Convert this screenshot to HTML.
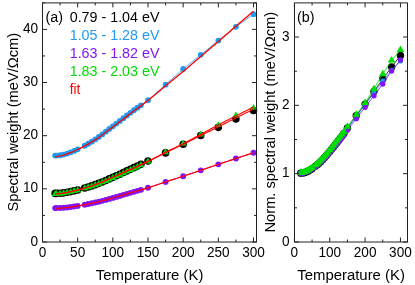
<!DOCTYPE html>
<html><head><meta charset="utf-8"><title>Spectral weight</title>
<style>
html,body{margin:0;padding:0;background:#fff;}
svg{display:block;font-family:"Liberation Sans",sans-serif;will-change:transform;}
</style></head>
<body>
<svg width="415" height="285" viewBox="0 0 415 285">
<rect width="415" height="285" fill="#fff"/>
<polyline points="55.16,155.61 56.57,155.56 60.08,155.24 63.6,154.59 67.12,153.58 70.63,152.37 74.15,150.94 77.66,149.34 84.7,145.76 88.21,143.75 91.73,141.65 95.25,139.43 98.76,137.02 102.28,134.44 105.8,131.72 109.31,128.97 112.83,126.28 116.35,123.6 119.86,120.91 123.38,118.21 126.9,115.52 130.41,112.84 133.93,110.23 137.45,107.77 140.96,105.36 148,100.25 165.58,84.7 183.16,68.98 200.74,54.8 218.33,40.57 235.91,26.79 253.49,14.2" fill="none" stroke="#1E9BF0" stroke-width="0.8" stroke-linejoin="round" />
<path d="M55.16 155.61m-2.9 0a2.9 2.9 0 1 0 5.8 0a2.9 2.9 0 1 0 -5.8 0M56.57 155.56m-2.9 0a2.9 2.9 0 1 0 5.8 0a2.9 2.9 0 1 0 -5.8 0M60.08 155.24m-2.9 0a2.9 2.9 0 1 0 5.8 0a2.9 2.9 0 1 0 -5.8 0M63.6 154.59m-2.9 0a2.9 2.9 0 1 0 5.8 0a2.9 2.9 0 1 0 -5.8 0M67.12 153.58m-2.9 0a2.9 2.9 0 1 0 5.8 0a2.9 2.9 0 1 0 -5.8 0M70.63 152.37m-2.9 0a2.9 2.9 0 1 0 5.8 0a2.9 2.9 0 1 0 -5.8 0M74.15 150.94m-2.9 0a2.9 2.9 0 1 0 5.8 0a2.9 2.9 0 1 0 -5.8 0M77.66 149.34m-2.9 0a2.9 2.9 0 1 0 5.8 0a2.9 2.9 0 1 0 -5.8 0M84.7 145.76m-2.9 0a2.9 2.9 0 1 0 5.8 0a2.9 2.9 0 1 0 -5.8 0M88.21 143.75m-2.9 0a2.9 2.9 0 1 0 5.8 0a2.9 2.9 0 1 0 -5.8 0M91.73 141.65m-2.9 0a2.9 2.9 0 1 0 5.8 0a2.9 2.9 0 1 0 -5.8 0M95.25 139.43m-2.9 0a2.9 2.9 0 1 0 5.8 0a2.9 2.9 0 1 0 -5.8 0M98.76 137.02m-2.9 0a2.9 2.9 0 1 0 5.8 0a2.9 2.9 0 1 0 -5.8 0M102.28 134.44m-2.9 0a2.9 2.9 0 1 0 5.8 0a2.9 2.9 0 1 0 -5.8 0M105.8 131.72m-2.9 0a2.9 2.9 0 1 0 5.8 0a2.9 2.9 0 1 0 -5.8 0M109.31 128.97m-2.9 0a2.9 2.9 0 1 0 5.8 0a2.9 2.9 0 1 0 -5.8 0M112.83 126.28m-2.9 0a2.9 2.9 0 1 0 5.8 0a2.9 2.9 0 1 0 -5.8 0M116.35 123.6m-2.9 0a2.9 2.9 0 1 0 5.8 0a2.9 2.9 0 1 0 -5.8 0M119.86 120.91m-2.9 0a2.9 2.9 0 1 0 5.8 0a2.9 2.9 0 1 0 -5.8 0M123.38 118.21m-2.9 0a2.9 2.9 0 1 0 5.8 0a2.9 2.9 0 1 0 -5.8 0M126.9 115.52m-2.9 0a2.9 2.9 0 1 0 5.8 0a2.9 2.9 0 1 0 -5.8 0M130.41 112.84m-2.9 0a2.9 2.9 0 1 0 5.8 0a2.9 2.9 0 1 0 -5.8 0M133.93 110.23m-2.9 0a2.9 2.9 0 1 0 5.8 0a2.9 2.9 0 1 0 -5.8 0M137.45 107.77m-2.9 0a2.9 2.9 0 1 0 5.8 0a2.9 2.9 0 1 0 -5.8 0M140.96 105.36m-2.9 0a2.9 2.9 0 1 0 5.8 0a2.9 2.9 0 1 0 -5.8 0M148 100.25m-2.9 0a2.9 2.9 0 1 0 5.8 0a2.9 2.9 0 1 0 -5.8 0M165.58 84.7m-2.9 0a2.9 2.9 0 1 0 5.8 0a2.9 2.9 0 1 0 -5.8 0M183.16 68.98m-2.9 0a2.9 2.9 0 1 0 5.8 0a2.9 2.9 0 1 0 -5.8 0M200.74 54.8m-2.9 0a2.9 2.9 0 1 0 5.8 0a2.9 2.9 0 1 0 -5.8 0M218.33 40.57m-2.9 0a2.9 2.9 0 1 0 5.8 0a2.9 2.9 0 1 0 -5.8 0M235.91 26.79m-2.9 0a2.9 2.9 0 1 0 5.8 0a2.9 2.9 0 1 0 -5.8 0M253.49 14.2m-2.9 0a2.9 2.9 0 1 0 5.8 0a2.9 2.9 0 1 0 -5.8 0" fill="#1E9BF0"/>
<polyline points="55.16,208.08 56.57,208.07 60.08,207.99 63.6,207.8 67.12,207.47 70.63,207.05 74.15,206.54 77.66,205.97 84.7,204.7 88.21,204.02 91.73,203.31 95.25,202.56 98.76,201.74 102.28,200.84 105.8,199.88 109.31,198.89 112.83,197.9 116.35,196.9 119.86,195.89 123.38,194.87 126.9,193.86 130.41,192.85 133.93,191.85 137.45,190.86 140.96,189.87 148,187.82 165.58,181.88 183.16,176.25 200.74,170.35 218.33,164.34 235.91,158.48 253.49,152.74" fill="none" stroke="#8014FA" stroke-width="0.8" stroke-linejoin="round" />
<path d="M55.16 208.08m-2.95 0a2.95 2.95 0 1 0 5.9 0a2.95 2.95 0 1 0 -5.9 0M56.57 208.07m-2.95 0a2.95 2.95 0 1 0 5.9 0a2.95 2.95 0 1 0 -5.9 0M60.08 207.99m-2.95 0a2.95 2.95 0 1 0 5.9 0a2.95 2.95 0 1 0 -5.9 0M63.6 207.8m-2.95 0a2.95 2.95 0 1 0 5.9 0a2.95 2.95 0 1 0 -5.9 0M67.12 207.47m-2.95 0a2.95 2.95 0 1 0 5.9 0a2.95 2.95 0 1 0 -5.9 0M70.63 207.05m-2.95 0a2.95 2.95 0 1 0 5.9 0a2.95 2.95 0 1 0 -5.9 0M74.15 206.54m-2.95 0a2.95 2.95 0 1 0 5.9 0a2.95 2.95 0 1 0 -5.9 0M77.66 205.97m-2.95 0a2.95 2.95 0 1 0 5.9 0a2.95 2.95 0 1 0 -5.9 0M84.7 204.7m-2.95 0a2.95 2.95 0 1 0 5.9 0a2.95 2.95 0 1 0 -5.9 0M88.21 204.02m-2.95 0a2.95 2.95 0 1 0 5.9 0a2.95 2.95 0 1 0 -5.9 0M91.73 203.31m-2.95 0a2.95 2.95 0 1 0 5.9 0a2.95 2.95 0 1 0 -5.9 0M95.25 202.56m-2.95 0a2.95 2.95 0 1 0 5.9 0a2.95 2.95 0 1 0 -5.9 0M98.76 201.74m-2.95 0a2.95 2.95 0 1 0 5.9 0a2.95 2.95 0 1 0 -5.9 0M102.28 200.84m-2.95 0a2.95 2.95 0 1 0 5.9 0a2.95 2.95 0 1 0 -5.9 0M105.8 199.88m-2.95 0a2.95 2.95 0 1 0 5.9 0a2.95 2.95 0 1 0 -5.9 0M109.31 198.89m-2.95 0a2.95 2.95 0 1 0 5.9 0a2.95 2.95 0 1 0 -5.9 0M112.83 197.9m-2.95 0a2.95 2.95 0 1 0 5.9 0a2.95 2.95 0 1 0 -5.9 0M116.35 196.9m-2.95 0a2.95 2.95 0 1 0 5.9 0a2.95 2.95 0 1 0 -5.9 0M119.86 195.89m-2.95 0a2.95 2.95 0 1 0 5.9 0a2.95 2.95 0 1 0 -5.9 0M123.38 194.87m-2.95 0a2.95 2.95 0 1 0 5.9 0a2.95 2.95 0 1 0 -5.9 0M126.9 193.86m-2.95 0a2.95 2.95 0 1 0 5.9 0a2.95 2.95 0 1 0 -5.9 0M130.41 192.85m-2.95 0a2.95 2.95 0 1 0 5.9 0a2.95 2.95 0 1 0 -5.9 0M133.93 191.85m-2.95 0a2.95 2.95 0 1 0 5.9 0a2.95 2.95 0 1 0 -5.9 0M137.45 190.86m-2.95 0a2.95 2.95 0 1 0 5.9 0a2.95 2.95 0 1 0 -5.9 0M140.96 189.87m-2.95 0a2.95 2.95 0 1 0 5.9 0a2.95 2.95 0 1 0 -5.9 0M148 187.82m-2.95 0a2.95 2.95 0 1 0 5.9 0a2.95 2.95 0 1 0 -5.9 0M165.58 181.88m-2.95 0a2.95 2.95 0 1 0 5.9 0a2.95 2.95 0 1 0 -5.9 0M183.16 176.25m-2.95 0a2.95 2.95 0 1 0 5.9 0a2.95 2.95 0 1 0 -5.9 0M200.74 170.35m-2.95 0a2.95 2.95 0 1 0 5.9 0a2.95 2.95 0 1 0 -5.9 0M218.33 164.34m-2.95 0a2.95 2.95 0 1 0 5.9 0a2.95 2.95 0 1 0 -5.9 0M235.91 158.48m-2.95 0a2.95 2.95 0 1 0 5.9 0a2.95 2.95 0 1 0 -5.9 0M253.49 152.74m-2.95 0a2.95 2.95 0 1 0 5.9 0a2.95 2.95 0 1 0 -5.9 0" fill="#8014FA"/>
<path d="M55.16 193.38m-3.8 0a3.8 3.8 0 1 0 7.6 0a3.8 3.8 0 1 0 -7.6 0M56.57 193.35m-3.8 0a3.8 3.8 0 1 0 7.6 0a3.8 3.8 0 1 0 -7.6 0M60.08 193.18m-3.8 0a3.8 3.8 0 1 0 7.6 0a3.8 3.8 0 1 0 -7.6 0M63.6 192.83m-3.8 0a3.8 3.8 0 1 0 7.6 0a3.8 3.8 0 1 0 -7.6 0M67.12 192.29m-3.8 0a3.8 3.8 0 1 0 7.6 0a3.8 3.8 0 1 0 -7.6 0M70.63 191.61m-3.8 0a3.8 3.8 0 1 0 7.6 0a3.8 3.8 0 1 0 -7.6 0M74.15 190.83m-3.8 0a3.8 3.8 0 1 0 7.6 0a3.8 3.8 0 1 0 -7.6 0M77.66 189.95m-3.8 0a3.8 3.8 0 1 0 7.6 0a3.8 3.8 0 1 0 -7.6 0M84.7 188.07m-3.8 0a3.8 3.8 0 1 0 7.6 0a3.8 3.8 0 1 0 -7.6 0M88.21 187.04m-3.8 0a3.8 3.8 0 1 0 7.6 0a3.8 3.8 0 1 0 -7.6 0M91.73 185.91m-3.8 0a3.8 3.8 0 1 0 7.6 0a3.8 3.8 0 1 0 -7.6 0M95.25 184.66m-3.8 0a3.8 3.8 0 1 0 7.6 0a3.8 3.8 0 1 0 -7.6 0M98.76 183.35m-3.8 0a3.8 3.8 0 1 0 7.6 0a3.8 3.8 0 1 0 -7.6 0M102.28 181.94m-3.8 0a3.8 3.8 0 1 0 7.6 0a3.8 3.8 0 1 0 -7.6 0M105.8 180.44m-3.8 0a3.8 3.8 0 1 0 7.6 0a3.8 3.8 0 1 0 -7.6 0M109.31 178.91m-3.8 0a3.8 3.8 0 1 0 7.6 0a3.8 3.8 0 1 0 -7.6 0M112.83 177.37m-3.8 0a3.8 3.8 0 1 0 7.6 0a3.8 3.8 0 1 0 -7.6 0M116.35 175.8m-3.8 0a3.8 3.8 0 1 0 7.6 0a3.8 3.8 0 1 0 -7.6 0M119.86 174.19m-3.8 0a3.8 3.8 0 1 0 7.6 0a3.8 3.8 0 1 0 -7.6 0M123.38 172.56m-3.8 0a3.8 3.8 0 1 0 7.6 0a3.8 3.8 0 1 0 -7.6 0M126.9 170.92m-3.8 0a3.8 3.8 0 1 0 7.6 0a3.8 3.8 0 1 0 -7.6 0M130.41 169.28m-3.8 0a3.8 3.8 0 1 0 7.6 0a3.8 3.8 0 1 0 -7.6 0M133.93 167.64m-3.8 0a3.8 3.8 0 1 0 7.6 0a3.8 3.8 0 1 0 -7.6 0M137.45 165.98m-3.8 0a3.8 3.8 0 1 0 7.6 0a3.8 3.8 0 1 0 -7.6 0M140.96 164.31m-3.8 0a3.8 3.8 0 1 0 7.6 0a3.8 3.8 0 1 0 -7.6 0M148 160.94m-3.8 0a3.8 3.8 0 1 0 7.6 0a3.8 3.8 0 1 0 -7.6 0M165.58 152.9m-3.8 0a3.8 3.8 0 1 0 7.6 0a3.8 3.8 0 1 0 -7.6 0M183.16 144.25m-3.8 0a3.8 3.8 0 1 0 7.6 0a3.8 3.8 0 1 0 -7.6 0M200.74 135.53m-3.8 0a3.8 3.8 0 1 0 7.6 0a3.8 3.8 0 1 0 -7.6 0M218.33 127.35m-3.8 0a3.8 3.8 0 1 0 7.6 0a3.8 3.8 0 1 0 -7.6 0M235.91 118.93m-3.8 0a3.8 3.8 0 1 0 7.6 0a3.8 3.8 0 1 0 -7.6 0M253.49 110.53m-3.8 0a3.8 3.8 0 1 0 7.6 0a3.8 3.8 0 1 0 -7.6 0" fill="#000000"/>
<path d="M55.16 190.09l3.45 5.98l-6.9 0zM56.57 190.01l3.45 5.98l-6.9 0zM60.08 189.7l3.45 5.98l-6.9 0zM63.6 189.22l3.45 5.98l-6.9 0zM67.12 188.59l3.45 5.98l-6.9 0zM70.63 187.89l3.45 5.98l-6.9 0zM74.15 187.1l3.45 5.98l-6.9 0zM77.66 186.23l3.45 5.98l-6.9 0zM84.7 184.35l3.45 5.98l-6.9 0zM88.21 183.33l3.45 5.98l-6.9 0zM91.73 182.21l3.45 5.98l-6.9 0zM95.25 180.99l3.45 5.98l-6.9 0zM98.76 179.73l3.45 5.98l-6.9 0zM102.28 178.39l3.45 5.98l-6.9 0zM105.8 176.94l3.45 5.98l-6.9 0zM109.31 175.45l3.45 5.98l-6.9 0zM112.83 173.92l3.45 5.98l-6.9 0zM116.35 172.35l3.45 5.98l-6.9 0zM119.86 170.77l3.45 5.98l-6.9 0zM123.38 169.19l3.45 5.98l-6.9 0zM126.9 167.61l3.45 5.98l-6.9 0zM130.41 166.05l3.45 5.98l-6.9 0zM133.93 164.44l3.45 5.98l-6.9 0zM137.45 162.75l3.45 5.98l-6.9 0zM140.96 161.01l3.45 5.98l-6.9 0zM148 157.49l3.45 5.98l-6.9 0zM165.58 148.35l3.45 5.98l-6.9 0zM183.16 139.63l3.45 5.98l-6.9 0zM200.74 130.44l3.45 5.98l-6.9 0zM218.33 121.13l3.45 5.98l-6.9 0zM235.91 111.61l3.45 5.98l-6.9 0zM253.49 104.06l3.45 5.98l-6.9 0z" fill="#00DC00"/>
<polyline points="55.16,156.67 56.83,156.48 58.49,156.23 60.16,155.93 61.83,155.56 63.49,155.1 65.16,154.58 66.83,154.01 68.49,153.42 70.16,152.81 71.83,152.17 73.49,151.48 75.16,150.76 76.83,150 78.49,149.21 80.16,148.4 81.83,147.56 83.49,146.68 85.16,145.77 86.83,144.82 88.49,143.85 90.16,142.86 91.83,141.86 93.49,140.84 95.16,139.79 96.83,138.71 98.49,137.6 100.16,136.47 101.83,135.3 103.49,134.09 105.16,132.85 106.83,131.6 108.49,130.34 110.16,129.09 111.83,127.83 113.49,126.57 115.16,125.31 116.83,124.03 118.49,122.76 120.16,121.48 121.83,120.2 123.49,118.92 125.16,117.64 126.83,116.37 128.49,115.1 130.16,113.83 131.83,112.57 133.49,111.32 135.16,110.09 136.82,108.85 138.49,107.62 140.16,106.38 141.82,105.13 143.49,103.88 145.16,102.61 146.82,101.32 148.49,100.01 150.16,98.68 151.82,97.33 153.49,95.96 155.16,94.57 156.82,93.18 158.49,91.78 160.16,90.38 161.82,88.98 163.49,87.59 165.16,86.21 166.82,84.84 168.49,83.48 170.16,82.12 171.82,80.76 173.49,79.41 175.16,78.05 176.82,76.7 178.49,75.33 180.16,73.96 181.82,72.58 183.49,71.2 185.16,69.8 186.82,68.39 188.49,66.98 190.16,65.56 191.82,64.13 193.49,62.7 195.16,61.27 196.82,59.85 198.49,58.42 200.16,57 201.82,55.58 203.49,54.16 205.16,52.74 206.82,51.33 208.49,49.91 210.16,48.5 211.82,47.08 213.49,45.66 215.16,44.24 216.82,42.81 218.49,41.38 220.16,39.94 221.82,38.5 223.49,37.05 225.16,35.6 226.82,34.14 228.49,32.69 230.16,31.24 231.82,29.79 233.49,28.34 235.16,26.9 236.82,25.47 238.49,24.04 240.16,22.61 241.82,21.18 243.49,19.76 245.16,18.34 246.82,16.92 248.49,15.51 250.16,14.1 251.82,12.69 253.49,11.28" fill="none" stroke="#FF0000" stroke-width="1.3" stroke-linejoin="round" />
<polyline points="55.16,208.5 56.83,208.43 58.49,208.34 60.16,208.23 61.83,208.1 63.49,207.93 65.16,207.75 66.83,207.54 68.49,207.33 70.16,207.11 71.83,206.89 73.49,206.64 75.16,206.38 76.83,206.11 78.49,205.83 80.16,205.54 81.83,205.24 83.49,204.93 85.16,204.62 86.83,204.29 88.49,203.96 90.16,203.63 91.83,203.29 93.49,202.94 95.16,202.58 96.83,202.2 98.49,201.8 100.16,201.39 101.83,200.96 103.49,200.51 105.16,200.05 106.83,199.59 108.49,199.12 110.16,198.65 111.83,198.19 113.49,197.71 115.16,197.24 116.83,196.76 118.49,196.28 120.16,195.8 121.83,195.32 123.49,194.84 125.16,194.36 126.83,193.88 128.49,193.4 130.16,192.92 131.83,192.44 133.49,191.97 135.16,191.5 136.82,191.04 138.49,190.57 140.16,190.1 141.82,189.63 143.49,189.15 145.16,188.67 146.82,188.17 148.49,187.67 150.16,187.15 151.82,186.6 153.49,186.04 155.16,185.47 156.82,184.89 158.49,184.3 160.16,183.72 161.82,183.14 163.49,182.57 165.16,182.01 166.82,181.47 168.49,180.94 170.16,180.4 171.82,179.87 173.49,179.35 175.16,178.82 176.82,178.29 178.49,177.76 180.16,177.22 181.82,176.68 183.49,176.14 185.16,175.59 186.82,175.04 188.49,174.48 190.16,173.92 191.82,173.36 193.49,172.8 195.16,172.24 196.82,171.67 198.49,171.11 200.16,170.54 201.82,169.98 203.49,169.41 205.16,168.84 206.82,168.26 208.49,167.68 210.16,167.11 211.82,166.53 213.49,165.96 215.16,165.4 216.82,164.84 218.49,164.28 220.16,163.73 221.82,163.18 223.49,162.62 225.16,162.06 226.82,161.51 228.49,160.95 230.16,160.39 231.82,159.84 233.49,159.28 235.16,158.73 236.82,158.18 238.49,157.63 240.16,157.08 241.82,156.54 243.49,155.99 245.16,155.45 246.82,154.9 248.49,154.36 250.16,153.82 251.82,153.28 253.49,152.74" fill="none" stroke="#FF0000" stroke-width="1.2" stroke-linejoin="round" />
<polyline points="55.16,193.86 56.83,193.75 58.49,193.61 60.16,193.45 61.83,193.24 63.49,192.99 65.16,192.7 66.83,192.38 68.49,192.05 70.16,191.71 71.83,191.36 73.49,190.98 75.16,190.58 76.83,190.17 78.49,189.74 80.16,189.3 81.83,188.86 83.49,188.4 85.16,187.94 86.83,187.46 88.49,186.96 90.16,186.43 91.83,185.87 93.49,185.29 95.16,184.7 96.83,184.08 98.49,183.45 100.16,182.8 101.83,182.13 103.49,181.43 105.16,180.72 106.83,180 108.49,179.27 110.16,178.54 111.83,177.81 113.49,177.08 115.16,176.34 116.83,175.6 118.49,174.86 120.16,174.11 121.83,173.37 123.49,172.62 125.16,171.88 126.83,171.14 128.49,170.4 130.16,169.66 131.83,168.92 133.49,168.18 135.16,167.43 136.82,166.68 138.49,165.92 140.16,165.16 141.82,164.38 143.49,163.61 145.16,162.82 146.82,162.03 148.49,161.23 150.16,160.42 151.82,159.58 153.49,158.74 155.16,157.89 156.82,157.03 158.49,156.18 160.16,155.32 161.82,154.48 163.49,153.65 165.16,152.84 166.82,152.04 168.49,151.24 170.16,150.45 171.82,149.66 173.49,148.88 175.16,148.09 176.82,147.29 178.49,146.5 180.16,145.7 181.82,144.9 183.49,144.09 185.16,143.28 186.82,142.46 188.49,141.64 190.16,140.81 191.82,139.98 193.49,139.15 195.16,138.32 196.82,137.48 198.49,136.65 200.16,135.82 201.82,135 203.49,134.17 205.16,133.35 206.82,132.52 208.49,131.7 210.16,130.88 211.82,130.05 213.49,129.22 215.16,128.4 216.82,127.57 218.49,126.73 220.16,125.89 221.82,125.05 223.49,124.21 225.16,123.37 226.82,122.52 228.49,121.67 230.16,120.83 231.82,119.98 233.49,119.14 235.16,118.3 236.82,117.47 238.49,116.63 240.16,115.8 241.82,114.97 243.49,114.15 245.16,113.32 246.82,112.49 248.49,111.67 250.16,110.85 251.82,110.03 253.49,109.21" fill="none" stroke="#FF0000" stroke-width="1.15" stroke-linejoin="round" />
<polyline points="55.16,194.07 56.83,193.96 58.49,193.81 60.16,193.64 61.83,193.43 63.49,193.17 65.16,192.87 66.83,192.55 68.49,192.21 70.16,191.86 71.83,191.5 73.49,191.12 75.16,190.72 76.83,190.29 78.49,189.86 80.16,189.42 81.83,188.96 83.49,188.51 85.16,188.03 86.83,187.55 88.49,187.04 90.16,186.51 91.83,185.94 93.49,185.36 95.16,184.76 96.83,184.14 98.49,183.5 100.16,182.84 101.83,182.17 103.49,181.47 105.16,180.75 106.83,180.02 108.49,179.28 110.16,178.55 111.83,177.82 113.49,177.08 115.16,176.33 116.83,175.59 118.49,174.84 120.16,174.09 121.83,173.34 123.49,172.59 125.16,171.85 126.83,171.1 128.49,170.35 130.16,169.61 131.83,168.87 133.49,168.13 135.16,167.37 136.82,166.62 138.49,165.85 140.16,165.08 141.82,164.3 143.49,163.52 145.16,162.73 146.82,161.93 148.49,161.12 150.16,160.3 151.82,159.46 153.49,158.6 155.16,157.74 156.82,156.87 158.49,156 160.16,155.13 161.82,154.27 163.49,153.42 165.16,152.59 166.82,151.77 168.49,150.95 170.16,150.14 171.82,149.33 173.49,148.51 175.16,147.7 176.82,146.88 178.49,146.06 180.16,145.23 181.82,144.4 183.49,143.56 185.16,142.7 186.82,141.84 188.49,140.96 190.16,140.07 191.82,139.18 193.49,138.28 195.16,137.38 196.82,136.48 198.49,135.58 200.16,134.68 201.82,133.79 203.49,132.89 205.16,131.98 206.82,131.07 208.49,130.16 210.16,129.25 211.82,128.35 213.49,127.45 215.16,126.56 216.82,125.68 218.49,124.82 220.16,123.96 221.82,123.09 223.49,122.23 225.16,121.36 226.82,120.5 228.49,119.64 230.16,118.78 231.82,117.92 233.49,117.08 235.16,116.23 236.82,115.4 238.49,114.57 240.16,113.73 241.82,112.9 243.49,112.08 245.16,111.25 246.82,110.42 248.49,109.6 250.16,108.78 251.82,107.96 253.49,107.14" fill="none" stroke="#FF0000" stroke-width="1.15" stroke-linejoin="round" />
<rect x="42.5" y="2.9" width="214" height="239.1" fill="none" stroke="#222" stroke-width="1"/>
<path d="M42.5 242v-4.5M42.5 2.9v4.5M77.66 242v-4.5M77.66 2.9v4.5M112.83 242v-4.5M112.83 2.9v4.5M148 242v-4.5M148 2.9v4.5M183.16 242v-4.5M183.16 2.9v4.5M218.33 242v-4.5M218.33 2.9v4.5M253.49 242v-4.5M253.49 2.9v4.5M60.08 242v-2.5M60.08 2.9v2.5M95.25 242v-2.5M95.25 2.9v2.5M130.41 242v-2.5M130.41 2.9v2.5M165.58 242v-2.5M165.58 2.9v2.5M200.74 242v-2.5M200.74 2.9v2.5M235.91 242v-2.5M235.91 2.9v2.5M42.5 242h4.5M256.5 242h-4.5M42.5 188.84h4.5M256.5 188.84h-4.5M42.5 135.68h4.5M256.5 135.68h-4.5M42.5 82.52h4.5M256.5 82.52h-4.5M42.5 29.36h4.5M256.5 29.36h-4.5M42.5 215.42h2.5M256.5 215.42h-2.5M42.5 162.26h2.5M256.5 162.26h-2.5M42.5 109.1h2.5M256.5 109.1h-2.5M42.5 55.94h2.5M256.5 55.94h-2.5M42.5 2.78h2.5M256.5 2.78h-2.5" stroke="#222" stroke-width="1" fill="none"/>
<text transform="translate(42.5 256.8) scale(1 1.08)" font-size="13.6" fill="#000" text-anchor="middle">0</text>
<text transform="translate(77.66 256.8) scale(1 1.08)" font-size="13.6" fill="#000" text-anchor="middle">50</text>
<text transform="translate(112.83 256.8) scale(1 1.08)" font-size="13.6" fill="#000" text-anchor="middle">100</text>
<text transform="translate(148 256.8) scale(1 1.08)" font-size="13.6" fill="#000" text-anchor="middle">150</text>
<text transform="translate(183.16 256.8) scale(1 1.08)" font-size="13.6" fill="#000" text-anchor="middle">200</text>
<text transform="translate(218.33 256.8) scale(1 1.08)" font-size="13.6" fill="#000" text-anchor="middle">250</text>
<text transform="translate(253.49 256.8) scale(1 1.08)" font-size="13.6" fill="#000" text-anchor="middle">300</text>
<text transform="translate(38 245.6) scale(1 1.08)" font-size="13.6" fill="#000" text-anchor="end">0</text>
<text transform="translate(38 192.44) scale(1 1.08)" font-size="13.6" fill="#000" text-anchor="end">10</text>
<text transform="translate(38 139.28) scale(1 1.08)" font-size="13.6" fill="#000" text-anchor="end">20</text>
<text transform="translate(38 86.12) scale(1 1.08)" font-size="13.6" fill="#000" text-anchor="end">30</text>
<text transform="translate(38 32.96) scale(1 1.08)" font-size="13.6" fill="#000" text-anchor="end">40</text>
<text x="149.6" y="279.5" font-size="14.9" fill="#000" text-anchor="middle" >Temperature (K)</text>
<text x="0" y="0" font-size="14.66" fill="#000" text-anchor="middle" transform="translate(18.2 122.2) rotate(-90) scale(1 0.96)">Spectral weight (meV/&#937;cm)</text>
<text transform="translate(45.6 22) scale(1 1.03)" font-size="14.3" fill="#000">(a)</text>
<text transform="translate(69.7 22.1) scale(1 1.03)" font-size="14.3" fill="#000000">0.79 - 1.04 eV</text>
<text transform="translate(69.7 40.3) scale(1 1.03)" font-size="14.3" fill="#1E9BF0">1.05 - 1.28 eV</text>
<text transform="translate(69.7 58) scale(1 1.03)" font-size="14.3" fill="#8014FA">1.63 - 1.82 eV</text>
<text transform="translate(69.7 76.1) scale(1 1.03)" font-size="14.3" fill="#00DC00">1.83 - 2.03 eV</text>
<text transform="translate(69.7 94.1) scale(0.93 1)" font-size="14.6" fill="#FF0000">fit</text>
<polyline points="300.76,173.17 301.47,173.14 303.24,172.95 305,172.5 306.77,171.79 308.54,170.89 310.31,169.84 312.07,168.66 315.61,166.11 317.38,164.72 319.14,163.18 320.91,161.49 322.68,159.69 324.45,157.77 326.21,155.72 327.98,153.61 329.75,151.5 331.52,149.34 333.28,147.14 335.05,144.9 336.82,142.65 338.59,140.4 340.35,138.14 342.12,135.85 343.89,133.53 347.42,128.07 356.26,115.77 365.1,104.09 373.94,91.52 382.77,79.01 391.61,66.99 400.45,55.51" fill="none" stroke="#000000" stroke-width="0.8" stroke-linejoin="round" />
<path d="M300.76 173.17m-3.7 0a3.7 3.7 0 1 0 7.4 0a3.7 3.7 0 1 0 -7.4 0M301.47 173.14m-3.7 0a3.7 3.7 0 1 0 7.4 0a3.7 3.7 0 1 0 -7.4 0M303.24 172.95m-3.7 0a3.7 3.7 0 1 0 7.4 0a3.7 3.7 0 1 0 -7.4 0M305 172.5m-3.7 0a3.7 3.7 0 1 0 7.4 0a3.7 3.7 0 1 0 -7.4 0M306.77 171.79m-3.7 0a3.7 3.7 0 1 0 7.4 0a3.7 3.7 0 1 0 -7.4 0M308.54 170.89m-3.7 0a3.7 3.7 0 1 0 7.4 0a3.7 3.7 0 1 0 -7.4 0M310.31 169.84m-3.7 0a3.7 3.7 0 1 0 7.4 0a3.7 3.7 0 1 0 -7.4 0M312.07 168.66m-3.7 0a3.7 3.7 0 1 0 7.4 0a3.7 3.7 0 1 0 -7.4 0M315.61 166.11m-3.7 0a3.7 3.7 0 1 0 7.4 0a3.7 3.7 0 1 0 -7.4 0M317.38 164.72m-3.7 0a3.7 3.7 0 1 0 7.4 0a3.7 3.7 0 1 0 -7.4 0M319.14 163.18m-3.7 0a3.7 3.7 0 1 0 7.4 0a3.7 3.7 0 1 0 -7.4 0M320.91 161.49m-3.7 0a3.7 3.7 0 1 0 7.4 0a3.7 3.7 0 1 0 -7.4 0M322.68 159.69m-3.7 0a3.7 3.7 0 1 0 7.4 0a3.7 3.7 0 1 0 -7.4 0M324.45 157.77m-3.7 0a3.7 3.7 0 1 0 7.4 0a3.7 3.7 0 1 0 -7.4 0M326.21 155.72m-3.7 0a3.7 3.7 0 1 0 7.4 0a3.7 3.7 0 1 0 -7.4 0M327.98 153.61m-3.7 0a3.7 3.7 0 1 0 7.4 0a3.7 3.7 0 1 0 -7.4 0M329.75 151.5m-3.7 0a3.7 3.7 0 1 0 7.4 0a3.7 3.7 0 1 0 -7.4 0M331.52 149.34m-3.7 0a3.7 3.7 0 1 0 7.4 0a3.7 3.7 0 1 0 -7.4 0M333.28 147.14m-3.7 0a3.7 3.7 0 1 0 7.4 0a3.7 3.7 0 1 0 -7.4 0M335.05 144.9m-3.7 0a3.7 3.7 0 1 0 7.4 0a3.7 3.7 0 1 0 -7.4 0M336.82 142.65m-3.7 0a3.7 3.7 0 1 0 7.4 0a3.7 3.7 0 1 0 -7.4 0M338.59 140.4m-3.7 0a3.7 3.7 0 1 0 7.4 0a3.7 3.7 0 1 0 -7.4 0M340.35 138.14m-3.7 0a3.7 3.7 0 1 0 7.4 0a3.7 3.7 0 1 0 -7.4 0M342.12 135.85m-3.7 0a3.7 3.7 0 1 0 7.4 0a3.7 3.7 0 1 0 -7.4 0M343.89 133.53m-3.7 0a3.7 3.7 0 1 0 7.4 0a3.7 3.7 0 1 0 -7.4 0M347.42 128.07m-3.7 0a3.7 3.7 0 1 0 7.4 0a3.7 3.7 0 1 0 -7.4 0M356.26 115.77m-3.7 0a3.7 3.7 0 1 0 7.4 0a3.7 3.7 0 1 0 -7.4 0M365.1 104.09m-3.7 0a3.7 3.7 0 1 0 7.4 0a3.7 3.7 0 1 0 -7.4 0M373.94 91.52m-3.7 0a3.7 3.7 0 1 0 7.4 0a3.7 3.7 0 1 0 -7.4 0M382.77 79.01m-3.7 0a3.7 3.7 0 1 0 7.4 0a3.7 3.7 0 1 0 -7.4 0M391.61 66.99m-3.7 0a3.7 3.7 0 1 0 7.4 0a3.7 3.7 0 1 0 -7.4 0M400.45 55.51m-3.7 0a3.7 3.7 0 1 0 7.4 0a3.7 3.7 0 1 0 -7.4 0" fill="#000000"/>
<polyline points="300.76,173.17 301.47,173.13 303.24,172.91 305,172.43 306.77,171.69 308.54,170.78 310.31,169.7 312.07,168.5 315.61,165.92 317.38,164.51 319.14,162.95 320.91,161.25 322.68,159.44 324.45,157.51 326.21,155.45 327.98,153.34 329.75,151.23 331.52,149.07 333.28,146.86 335.05,144.63 336.82,142.39 338.59,140.15 340.35,137.9 342.12,135.63 343.89,133.34 347.42,128.21 356.26,116.52 365.1,104.91 373.94,92.88 382.77,81.06 391.61,70.4 400.45,60.9" fill="none" stroke="#1E9BF0" stroke-width="0.8" stroke-linejoin="round" />
<path d="M300.76 173.17m-2.6 0a2.6 2.6 0 1 0 5.2 0a2.6 2.6 0 1 0 -5.2 0M301.47 173.13m-2.6 0a2.6 2.6 0 1 0 5.2 0a2.6 2.6 0 1 0 -5.2 0M303.24 172.91m-2.6 0a2.6 2.6 0 1 0 5.2 0a2.6 2.6 0 1 0 -5.2 0M305 172.43m-2.6 0a2.6 2.6 0 1 0 5.2 0a2.6 2.6 0 1 0 -5.2 0M306.77 171.69m-2.6 0a2.6 2.6 0 1 0 5.2 0a2.6 2.6 0 1 0 -5.2 0M308.54 170.78m-2.6 0a2.6 2.6 0 1 0 5.2 0a2.6 2.6 0 1 0 -5.2 0M310.31 169.7m-2.6 0a2.6 2.6 0 1 0 5.2 0a2.6 2.6 0 1 0 -5.2 0M312.07 168.5m-2.6 0a2.6 2.6 0 1 0 5.2 0a2.6 2.6 0 1 0 -5.2 0M315.61 165.92m-2.6 0a2.6 2.6 0 1 0 5.2 0a2.6 2.6 0 1 0 -5.2 0M317.38 164.51m-2.6 0a2.6 2.6 0 1 0 5.2 0a2.6 2.6 0 1 0 -5.2 0M319.14 162.95m-2.6 0a2.6 2.6 0 1 0 5.2 0a2.6 2.6 0 1 0 -5.2 0M320.91 161.25m-2.6 0a2.6 2.6 0 1 0 5.2 0a2.6 2.6 0 1 0 -5.2 0M322.68 159.44m-2.6 0a2.6 2.6 0 1 0 5.2 0a2.6 2.6 0 1 0 -5.2 0M324.45 157.51m-2.6 0a2.6 2.6 0 1 0 5.2 0a2.6 2.6 0 1 0 -5.2 0M326.21 155.45m-2.6 0a2.6 2.6 0 1 0 5.2 0a2.6 2.6 0 1 0 -5.2 0M327.98 153.34m-2.6 0a2.6 2.6 0 1 0 5.2 0a2.6 2.6 0 1 0 -5.2 0M329.75 151.23m-2.6 0a2.6 2.6 0 1 0 5.2 0a2.6 2.6 0 1 0 -5.2 0M331.52 149.07m-2.6 0a2.6 2.6 0 1 0 5.2 0a2.6 2.6 0 1 0 -5.2 0M333.28 146.86m-2.6 0a2.6 2.6 0 1 0 5.2 0a2.6 2.6 0 1 0 -5.2 0M335.05 144.63m-2.6 0a2.6 2.6 0 1 0 5.2 0a2.6 2.6 0 1 0 -5.2 0M336.82 142.39m-2.6 0a2.6 2.6 0 1 0 5.2 0a2.6 2.6 0 1 0 -5.2 0M338.59 140.15m-2.6 0a2.6 2.6 0 1 0 5.2 0a2.6 2.6 0 1 0 -5.2 0M340.35 137.9m-2.6 0a2.6 2.6 0 1 0 5.2 0a2.6 2.6 0 1 0 -5.2 0M342.12 135.63m-2.6 0a2.6 2.6 0 1 0 5.2 0a2.6 2.6 0 1 0 -5.2 0M343.89 133.34m-2.6 0a2.6 2.6 0 1 0 5.2 0a2.6 2.6 0 1 0 -5.2 0M347.42 128.21m-2.6 0a2.6 2.6 0 1 0 5.2 0a2.6 2.6 0 1 0 -5.2 0M356.26 116.52m-2.6 0a2.6 2.6 0 1 0 5.2 0a2.6 2.6 0 1 0 -5.2 0M365.1 104.91m-2.6 0a2.6 2.6 0 1 0 5.2 0a2.6 2.6 0 1 0 -5.2 0M373.94 92.88m-2.6 0a2.6 2.6 0 1 0 5.2 0a2.6 2.6 0 1 0 -5.2 0M382.77 81.06m-2.6 0a2.6 2.6 0 1 0 5.2 0a2.6 2.6 0 1 0 -5.2 0M391.61 70.4m-2.6 0a2.6 2.6 0 1 0 5.2 0a2.6 2.6 0 1 0 -5.2 0M400.45 60.9m-2.6 0a2.6 2.6 0 1 0 5.2 0a2.6 2.6 0 1 0 -5.2 0" fill="#1E9BF0"/>
<polyline points="300.76,173.17 301.47,173.15 303.24,172.97 305,172.55 306.77,171.87 308.54,171.01 310.31,170 312.07,168.88 315.61,166.46 317.38,165.14 319.14,163.69 320.91,162.1 322.68,160.42 324.45,158.62 326.21,156.68 327.98,154.68 329.75,152.66 331.52,150.59 333.28,148.47 335.05,146.31 336.82,144.14 338.59,141.97 340.35,139.79 342.12,137.57 343.89,135.33 347.42,130.26 356.26,118.64 365.1,107.37 373.94,95.75 382.77,83.93 391.61,71.02 400.45,59.88" fill="none" stroke="#8014FA" stroke-width="0.8" stroke-linejoin="round" />
<path d="M300.76 173.17m-2.7 0a2.7 2.7 0 1 0 5.4 0a2.7 2.7 0 1 0 -5.4 0M301.47 173.15m-2.7 0a2.7 2.7 0 1 0 5.4 0a2.7 2.7 0 1 0 -5.4 0M303.24 172.97m-2.7 0a2.7 2.7 0 1 0 5.4 0a2.7 2.7 0 1 0 -5.4 0M305 172.55m-2.7 0a2.7 2.7 0 1 0 5.4 0a2.7 2.7 0 1 0 -5.4 0M306.77 171.87m-2.7 0a2.7 2.7 0 1 0 5.4 0a2.7 2.7 0 1 0 -5.4 0M308.54 171.01m-2.7 0a2.7 2.7 0 1 0 5.4 0a2.7 2.7 0 1 0 -5.4 0M310.31 170m-2.7 0a2.7 2.7 0 1 0 5.4 0a2.7 2.7 0 1 0 -5.4 0M312.07 168.88m-2.7 0a2.7 2.7 0 1 0 5.4 0a2.7 2.7 0 1 0 -5.4 0M315.61 166.46m-2.7 0a2.7 2.7 0 1 0 5.4 0a2.7 2.7 0 1 0 -5.4 0M317.38 165.14m-2.7 0a2.7 2.7 0 1 0 5.4 0a2.7 2.7 0 1 0 -5.4 0M319.14 163.69m-2.7 0a2.7 2.7 0 1 0 5.4 0a2.7 2.7 0 1 0 -5.4 0M320.91 162.1m-2.7 0a2.7 2.7 0 1 0 5.4 0a2.7 2.7 0 1 0 -5.4 0M322.68 160.42m-2.7 0a2.7 2.7 0 1 0 5.4 0a2.7 2.7 0 1 0 -5.4 0M324.45 158.62m-2.7 0a2.7 2.7 0 1 0 5.4 0a2.7 2.7 0 1 0 -5.4 0M326.21 156.68m-2.7 0a2.7 2.7 0 1 0 5.4 0a2.7 2.7 0 1 0 -5.4 0M327.98 154.68m-2.7 0a2.7 2.7 0 1 0 5.4 0a2.7 2.7 0 1 0 -5.4 0M329.75 152.66m-2.7 0a2.7 2.7 0 1 0 5.4 0a2.7 2.7 0 1 0 -5.4 0M331.52 150.59m-2.7 0a2.7 2.7 0 1 0 5.4 0a2.7 2.7 0 1 0 -5.4 0M333.28 148.47m-2.7 0a2.7 2.7 0 1 0 5.4 0a2.7 2.7 0 1 0 -5.4 0M335.05 146.31m-2.7 0a2.7 2.7 0 1 0 5.4 0a2.7 2.7 0 1 0 -5.4 0M336.82 144.14m-2.7 0a2.7 2.7 0 1 0 5.4 0a2.7 2.7 0 1 0 -5.4 0M338.59 141.97m-2.7 0a2.7 2.7 0 1 0 5.4 0a2.7 2.7 0 1 0 -5.4 0M340.35 139.79m-2.7 0a2.7 2.7 0 1 0 5.4 0a2.7 2.7 0 1 0 -5.4 0M342.12 137.57m-2.7 0a2.7 2.7 0 1 0 5.4 0a2.7 2.7 0 1 0 -5.4 0M343.89 135.33m-2.7 0a2.7 2.7 0 1 0 5.4 0a2.7 2.7 0 1 0 -5.4 0M347.42 130.26m-2.7 0a2.7 2.7 0 1 0 5.4 0a2.7 2.7 0 1 0 -5.4 0M356.26 118.64m-2.7 0a2.7 2.7 0 1 0 5.4 0a2.7 2.7 0 1 0 -5.4 0M365.1 107.37m-2.7 0a2.7 2.7 0 1 0 5.4 0a2.7 2.7 0 1 0 -5.4 0M373.94 95.75m-2.7 0a2.7 2.7 0 1 0 5.4 0a2.7 2.7 0 1 0 -5.4 0M382.77 83.93m-2.7 0a2.7 2.7 0 1 0 5.4 0a2.7 2.7 0 1 0 -5.4 0M391.61 71.02m-2.7 0a2.7 2.7 0 1 0 5.4 0a2.7 2.7 0 1 0 -5.4 0M400.45 59.88m-2.7 0a2.7 2.7 0 1 0 5.4 0a2.7 2.7 0 1 0 -5.4 0" fill="#8014FA"/>
<polyline points="300.76,172.76 301.47,172.69 303.24,172.4 305,171.86 306.77,171.06 308.54,170.07 310.31,168.93 312.07,167.67 315.61,164.97 317.38,163.51 319.14,161.9 320.91,160.14 322.68,158.29 324.45,156.31 326.21,154.22 327.98,152.07 329.75,149.93 331.52,147.74 333.28,145.5 335.05,143.23 336.82,140.95 338.59,138.67 340.35,136.39 342.12,134.08 343.89,131.75 347.42,126.57 356.26,114.68 365.1,102.93 373.94,88.78 382.77,74.02 391.61,60.43 400.45,49.83" fill="none" stroke="#00DC00" stroke-width="0.8" stroke-linejoin="round" />
<path d="M300.76 168.37l3.8 6.58l-7.6 0zM301.47 168.31l3.8 6.58l-7.6 0zM303.24 168.02l3.8 6.58l-7.6 0zM305 167.48l3.8 6.58l-7.6 0zM306.77 166.67l3.8 6.58l-7.6 0zM308.54 165.69l3.8 6.58l-7.6 0zM310.31 164.54l3.8 6.58l-7.6 0zM312.07 163.28l3.8 6.58l-7.6 0zM315.61 160.58l3.8 6.58l-7.6 0zM317.38 159.12l3.8 6.58l-7.6 0zM319.14 157.51l3.8 6.58l-7.6 0zM320.91 155.75l3.8 6.58l-7.6 0zM322.68 153.9l3.8 6.58l-7.6 0zM324.45 151.93l3.8 6.58l-7.6 0zM326.21 149.83l3.8 6.58l-7.6 0zM327.98 147.68l3.8 6.58l-7.6 0zM329.75 145.54l3.8 6.58l-7.6 0zM331.52 143.35l3.8 6.58l-7.6 0zM333.28 141.11l3.8 6.58l-7.6 0zM335.05 138.84l3.8 6.58l-7.6 0zM336.82 136.56l3.8 6.58l-7.6 0zM338.59 134.28l3.8 6.58l-7.6 0zM340.35 132l3.8 6.58l-7.6 0zM342.12 129.69l3.8 6.58l-7.6 0zM343.89 127.36l3.8 6.58l-7.6 0zM347.42 122.18l3.8 6.58l-7.6 0zM356.26 110.29l3.8 6.58l-7.6 0zM365.1 98.54l3.8 6.58l-7.6 0zM373.94 84.39l3.8 6.58l-7.6 0zM382.77 69.64l3.8 6.58l-7.6 0zM391.61 56.04l3.8 6.58l-7.6 0zM400.45 45.45l3.8 6.58l-7.6 0z" fill="#00DC00"/>
<rect x="294.5" y="2.9" width="113" height="239.1" fill="none" stroke="#222" stroke-width="1"/>
<path d="M294.4 242v-4.5M294.4 2.9v4.5M329.75 242v-4.5M329.75 2.9v4.5M365.1 242v-4.5M365.1 2.9v4.5M400.45 242v-4.5M400.45 2.9v4.5M312.07 242v-2.5M312.07 2.9v2.5M347.42 242v-2.5M347.42 2.9v2.5M382.77 242v-2.5M382.77 2.9v2.5M294.5 242h4.5M407.5 242h-4.5M294.5 173.67h4.5M407.5 173.67h-4.5M294.5 105.34h4.5M407.5 105.34h-4.5M294.5 37.01h4.5M407.5 37.01h-4.5M294.5 207.84h2.5M407.5 207.84h-2.5M294.5 139.5h2.5M407.5 139.5h-2.5M294.5 71.18h2.5M407.5 71.18h-2.5" stroke="#222" stroke-width="1" fill="none"/>
<text transform="translate(294.4 256.8) scale(1 1.08)" font-size="13.6" fill="#000" text-anchor="middle">0</text>
<text transform="translate(329.75 256.8) scale(1 1.08)" font-size="13.6" fill="#000" text-anchor="middle">100</text>
<text transform="translate(365.1 256.8) scale(1 1.08)" font-size="13.6" fill="#000" text-anchor="middle">200</text>
<text transform="translate(400.45 256.8) scale(1 1.08)" font-size="13.6" fill="#000" text-anchor="middle">300</text>
<text transform="translate(289.5 245.6) scale(1 1.08)" font-size="13.6" fill="#000" text-anchor="end">0</text>
<text transform="translate(289.5 177.27) scale(1 1.08)" font-size="13.6" fill="#000" text-anchor="end">1</text>
<text transform="translate(289.5 108.94) scale(1 1.08)" font-size="13.6" fill="#000" text-anchor="end">2</text>
<text transform="translate(289.5 40.61) scale(1 1.08)" font-size="13.6" fill="#000" text-anchor="end">3</text>
<text x="351.1" y="279.5" font-size="14.9" fill="#000" text-anchor="middle" >Temperature (K)</text>
<text x="0" y="0" font-size="14.7" fill="#000" text-anchor="middle" transform="translate(275.4 122.2) rotate(-90) scale(1 0.96)">Norm. spectral weight (meV/&#937;cm)</text>
<text transform="translate(297 22) scale(1 1.03)" font-size="14.3" fill="#000">(b)</text>
</svg>
</body></html>
